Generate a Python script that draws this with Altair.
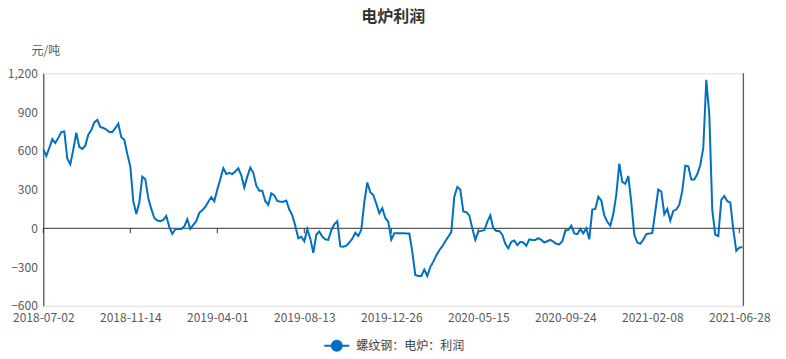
import altair as alt
import pandas as pd

# ---- data ----
values = [
    610, 560, 622, 690, 660, 700, 745, 750, 540, 495,
    610, 740, 630, 615, 640, 725, 760, 820, 840, 785,
    777, 765, 745, 745, 775, 810, 705, 685, 575, 480,
    210, 110, 200, 400, 380, 232, 150, 80, 60, 55,
    65, 95, 10, -44, -8, -5, -5, 15, 70, -5,
    26, 55, 120, 140, 165, 206, 240, 210, 300, 380,
    465, 420, 430, 420, 440, 464, 410, 315, 400, 470,
    430, 330, 290, 290, 210, 181, 270, 255, 212, 206,
    206, 215, 145, 100, 20, -77, -65, -100, -5, -80,
    -190, -50, -25, -65, -85, -90, -15, 30, 55, -140,
    -142, -135, -110, -80, -35, -60, -10, 200, 355, 280,
    258, 190, 116, 155, 80, 50, -88, -39, -39, -39,
    -39, -40, -40, -180, -361, -369, -369, -320, -369, -300,
    -258, -210, -170, -140, -100, -65, -30, 245, 320, 300,
    130, 125, 100, 0, -90, -26, -20, -15, 50, 100,
    0, -20, -20, -50, -120, -155, -105, -95, -130, -105,
    -110, -135, -85, -90, -90, -77, -90, -110, -100, -90,
    -103, -120, -125, -100, -20, -13, 20, -40, -45, -5,
    -39, 0, -85, 145, 150, 245, 215, 100, 50, 20,
    110, 260, 500, 360, 345, 405, 200, -50, -110, -120,
    -88, -45, -41, -38, 132, 300, 285, 110, 150, 60,
    135, 145, 183, 290, 485, 480, 377, 377, 420, 490,
    622, 1150, 880, 140, -50, -60, 220, 250, 210, 200,
    -10, -175, -150, -145,
]
tick_labels = [
    "2018-07-02", "2018-11-14", "2019-04-01", "2019-08-13", "2019-12-26",
    "2020-05-15", "2020-09-24", "2021-02-08", "2021-06-28",
]
label_step = 29
y_ticks = [-600, -300, 0, 300, 600, 900, 1200]
series_name = "螺纹钢：电炉：利润"
chart_title = "电炉利润"
unit = "元/吨"

FONT = "Noto Sans CJK SC"
LINE = "#0070c0"
AX = "#333333"
TXT = "#595959"

df = pd.DataFrame({"i": list(range(len(values))), "v": values, "s": series_name})
tick_idx = [k * label_step for k in range(len(tick_labels))]
df_ticks = pd.DataFrame({"i": tick_idx})
x_max = len(values) - 1 + 1 / 3

x_scale = alt.Scale(domain=[0, x_max], nice=False, zero=False)
y_scale = alt.Scale(domain=[y_ticks[0], y_ticks[-1]], nice=False, zero=False)

label_expr = "[" + ",".join("'%s'" % d for d in tick_labels) + "][round(datum.value / %d)]" % label_step

x_axis = alt.Axis(values=tick_idx, labelExpr=label_expr, title=None, domain=False,
                  ticks=False, grid=False, labelFontSize=12, labelColor=TXT,
                  labelFont=FONT, labelPadding=7, labelOverlap=False,
                  labelBound=False, labelFlush=False)
y_axis = alt.Axis(values=y_ticks, format=",.0f", title=unit, titleAngle=0, titleX=2,
                  titleY=-23, titleAlign="center", titleBaseline="middle",
                  titleFontWeight="normal", titleFontSize=12, titleColor=TXT,
                  titleFont=FONT, ticks=False, grid=False, domainColor=AX,
                  domainWidth=1, labelFontSize=12, labelColor=TXT, labelFont=FONT,
                  labelPadding=6, labelOverlap=False, labelFlush=False,
                  labelBound=False, tickCount=len(y_ticks))

line = alt.Chart(df).mark_line(strokeWidth=2).encode(
    x=alt.X("i:Q", scale=x_scale, axis=x_axis),
    y=alt.Y("v:Q", scale=y_scale, axis=y_axis),
    color=alt.Color(
        "s:N",
        scale=alt.Scale(range=[LINE]),
        legend=alt.Legend(
            title=None, orient="none", legendX=280, legendY=259, padding=0,
            symbolType="M-1,0L1,0M-0.4,0A0.4,0.4,0,1,1,0.4,0A0.4,0.4,0,1,1,-0.4,0Z",
            symbolSize=625, symbolStrokeWidth=2, symbolFillColor=LINE,
            symbolStrokeColor=LINE, labelFontSize=12, labelColor="#404040",
            labelFont=FONT, labelOffset=6,
        ),
    ),
)

zero_rule = alt.Chart(pd.DataFrame({"v": [0]})).mark_rule(color=AX, strokeWidth=1).encode(
    y=alt.Y("v:Q", scale=y_scale, axis=y_axis)
)
zero_ticks = alt.Chart(df_ticks).mark_rule(color=AX, strokeWidth=1).encode(
    x=alt.X("i:Q", scale=x_scale, axis=x_axis),
    y=alt.YDatum(0, scale=y_scale, axis=y_axis),
    y2=alt.Y2Datum(-38),
)
right_rule = alt.Chart(pd.DataFrame({"i": [x_max]})).mark_rule(color=AX, strokeWidth=1).encode(
    x=alt.X("i:Q", scale=x_scale, axis=x_axis)
)

chart = alt.layer(zero_rule, zero_ticks, right_rule, line).properties(
    width=700,
    height=232.5,
    title=alt.TitleParams(chart_title, anchor="middle", fontSize=16, fontWeight="bold",
                          color="#333333", font=FONT, offset=19),
    autosize=alt.AutoSizeParams(type="none"),
    padding={"left": 35.3, "top": 65.3, "right": 30, "bottom": 46},
).configure_view(stroke=None).configure(font=FONT)

chart.save("out.html", embed_options={"renderer": "svg", "actions": False})
